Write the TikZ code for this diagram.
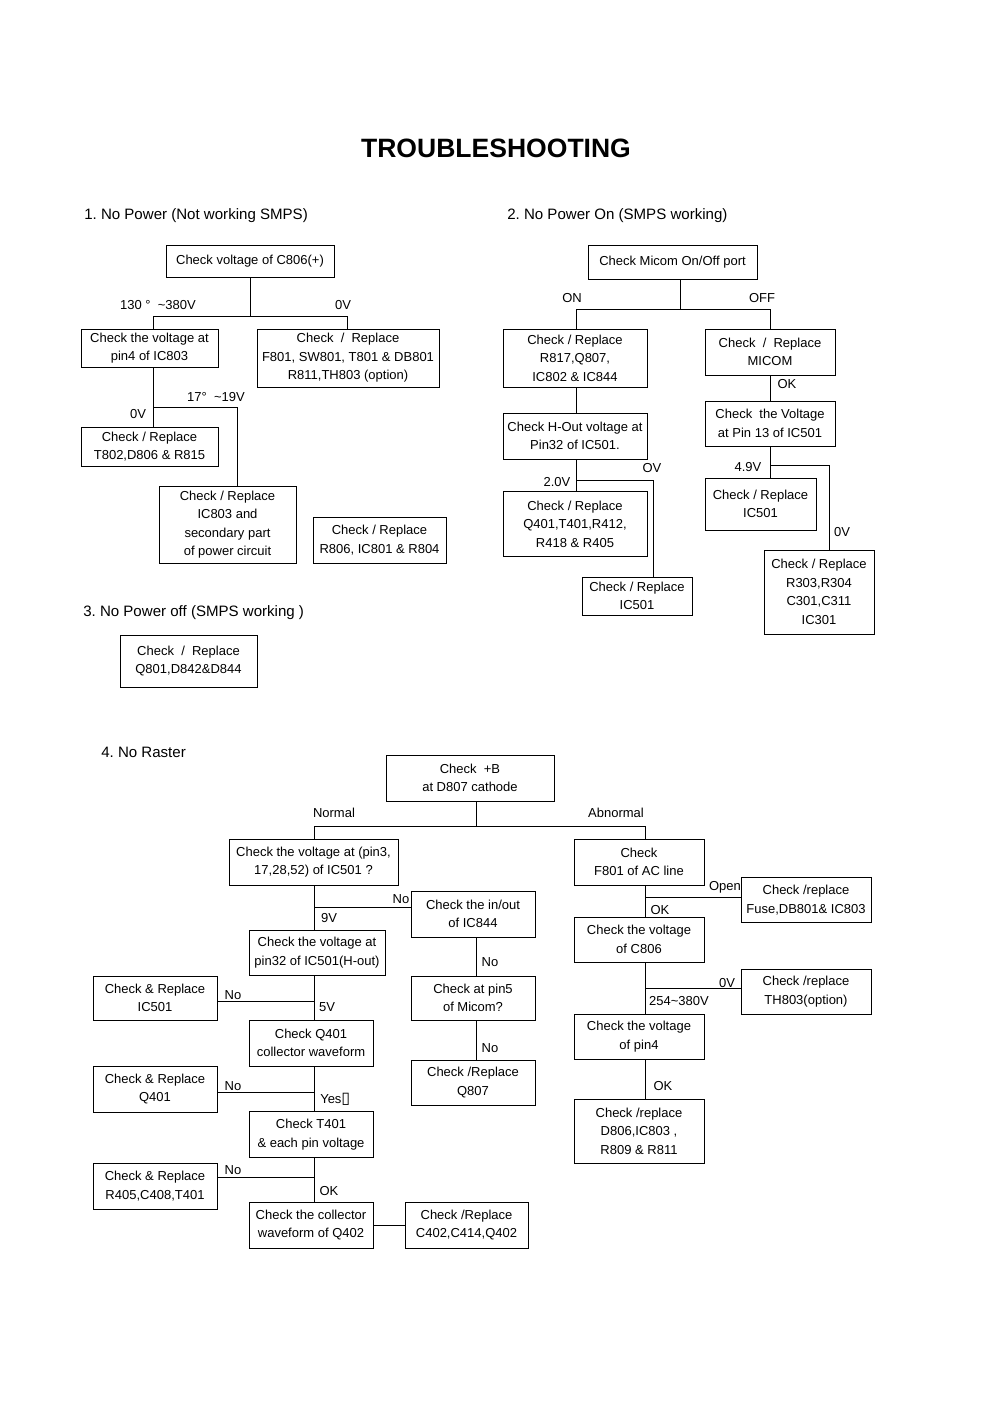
\documentclass[tikz,border=0pt]{standalone}
\usepackage{fontspec}
\setmainfont{Liberation Sans}
\newfontfamily\djv{DejaVu Sans}
\begin{document}
\frenchspacing
\begin{tikzpicture}[x=0.75pt,y=-0.75pt,
  bx/.style={draw,line width=0.7pt,inner sep=0pt,align=center,font=\fontsize{9.75}{13.9}\selectfont},
  sz/.style 2 args={minimum width=#1*0.75pt,minimum height=#2*0.75pt},
  lbl/.style={inner sep=0pt,font=\fontsize{9.75}{12}\selectfont},
  hd/.style={inner sep=0pt,anchor=west,font=\fontsize{11.3}{13}\selectfont},
  ln/.style={line width=0.7pt}]
\useasboundingbox (0,0) rectangle (992,1404);
\fill[white] (0,0) rectangle (992,1404);

\node[inner sep=0pt,font=\fontsize{19.9}{22}\selectfont\bfseries] (title) at (496,148) {TROUBLESHOOTING};

% ---------------- Section 1
\node[hd] (h1) at (84,216) {1. No Power (Not working SMPS)};
\node[bx,sz={168}{32}] (A1) at (250,261) {Check voltage of C806(+)};
\node[bx,sz={137}{38}] (B1) at (149.5,348) {Check the voltage at\\pin4 of IC803};
\node[bx,sz={182}{58}] (C1) at (348,358) {Check~ /~ Replace\\F801, SW801, T801 \& DB801\\R811,TH803 (option)};
\node[bx,sz={137}{39}] (D1) at (149.5,446.5) {Check / Replace\\T802,D806 \& R815};
\node[bx,sz={137}{77}] (E1) at (227.5,524.5) {Check / Replace\\IC803 and\\secondary part\\of power circuit};
\node[bx,sz={133}{46}] (F1) at (379.5,540) {Check / Replace\\R806, IC801 \& R804};

\coordinate (s1j) at (250,316);
\coordinate (s1L) at (153,316);
\coordinate (s1R) at (347,316);
\coordinate (s1k) at (153,407);
\coordinate (s1m) at (237,407);
\draw[ln] (A1.south) -- (s1j);
\draw[ln] (B1.north -| s1L) -- (s1L) -- (s1R) -- (C1.north -| s1R);
\draw[ln] (B1.south -| s1k) -- (D1.north -| s1k);
\draw[ln] (s1k) -- (s1m) -- (E1.north -| s1m);

\node[lbl] (l1a) at (158,305) {130 °\ \ \textasciitilde380V};
\node[lbl] (l1b) at (343,305) {0V};
\node[lbl] (l1c) at (216,397) {17°\ \ \textasciitilde19V};
\node[lbl] (l1d) at (138,414) {0V};

% ---------------- Section 2
\node[hd] (h2) at (507,216) {2. No Power On (SMPS working)};
\node[bx,sz={169}{34}] (A2) at (672.5,262) {Check Micom On/Off port};
\node[bx,sz={144}{58}] (B2) at (575,358) {Check / Replace\\R817,Q807,\\IC802 \& IC844};
\node[bx,sz={130}{46}] (C2) at (770,352) {Check~ /~ Replace\\MICOM};
\node[bx,sz={130}{45}] (D2) at (770,423.5) {Check~ the Voltage\\at Pin 13 of IC501};
\node[bx,sz={144}{46}] (E2) at (575,436) {Check H-Out voltage at\\Pin32 of IC501.};
\node[bx,sz={144}{65}] (F2) at (575,524) {Check / Replace\\Q401,T401,R412,\\R418 \& R405};
\node[bx,sz={110}{38}] (G2) at (637,596) {Check / Replace\\IC501};
\node[bx,sz={111}{52}] (H2) at (760.5,504) {Check / Replace\\IC501};
\node[bx,sz={110}{84}] (I2) at (819,592) {Check / Replace\\R303,R304\\C301,C311\\IC301};

\coordinate (s2j) at (680,309);
\coordinate (s2L) at (576,309);
\coordinate (s2R) at (770,309);
\draw[ln] (A2.south -| s2j) -- (s2j);
\draw[ln] (B2.north -| s2L) -- (s2L) -- (s2R) -- (C2.north -| s2R);
\draw[ln] (C2.south) -- (D2.north);
\draw[ln] (B2.south -| s2L) -- (E2.north -| s2L);
\coordinate (s2k) at (576,480);
\coordinate (s2m) at (653,480);
\draw[ln] (E2.south -| s2k) -- (F2.north -| s2k);
\draw[ln] (s2k) -- (s2m) -- (G2.north -| s2m);
\coordinate (s2p) at (770,465);
\coordinate (s2q) at (829,465);
\draw[ln] (D2.south -| s2p) -- (H2.north -| s2p);
\draw[ln] (s2p) -- (s2q) -- (I2.north -| s2q);

\node[lbl] (l2a) at (572,298) {ON};
\node[lbl] (l2b) at (762,298) {OFF};
\node[lbl] (l2c) at (787,384) {OK};
\node[lbl] (l2d) at (652,468) {OV};
\node[lbl] (l2e) at (557,482) {2.0V};
\node[lbl] (l2f) at (748,467) {4.9V};
\node[lbl] (l2g) at (842,532) {0V};

% ---------------- Section 3
\node[hd] (h3) at (83,613) {3. No Power off (SMPS working )};
\node[bx,sz={137}{52}] (S3) at (188.5,661) {Check~ /~ Replace\\Q801,D842\&D844};

% ---------------- Section 4
\node[hd] (h4) at (101,752) {4. No Raster};
\node[bx,sz={168}{46}] (A4) at (470,778) {Check~ +B\\at D807 cathode};
\node[bx,sz={169}{46}] (B4) at (313.5,862) {Check the voltage at (pin3,\\17,28,52) of IC501 ?};
\node[bx,sz={124}{46}] (D4) at (473,914) {Check the in/out\\of IC844};
\node[bx,sz={136}{45}] (C4) at (317,952.5) {Check the voltage at\\pin32 of IC501(H-out)};
\node[bx,sz={124}{44}] (F4) at (155,998) {Check \& Replace\\IC501};
\node[bx,sz={124}{46}] (E4) at (311,1043) {Check Q401\\collector waveform};
\node[bx,sz={124}{44}] (G4) at (473,998) {Check at pin5\\of Micom?};
\node[bx,sz={124}{45}] (H4) at (473,1082.5) {Check /Replace\\Q807};
\node[bx,sz={124}{46}] (J4) at (155,1089) {Check \& Replace\\Q401};
\node[bx,sz={124}{46}] (I4) at (311,1134.5) {Check T401\\\& each pin voltage};
\node[bx,sz={124}{46}] (L4) at (155,1186) {Check \& Replace\\R405,C408,T401};
\node[bx,sz={124}{46}] (K4) at (311,1225) {Check the collector\\waveform of Q402};
\node[bx,sz={123}{46}] (M4) at (466.5,1225) {Check /Replace\\C402,C414,Q402};
\node[bx,sz={130}{46}] (N4) at (639,862) {Check\\F801 of AC line};
\node[bx,sz={130}{45}] (P4) at (806,900) {Check /replace\\Fuse,DB801\& IC803};
\node[bx,sz={130}{45}] (O4) at (639,939.5) {Check the voltage\\of C806};
\node[bx,sz={130}{45}] (R4) at (806,991.5) {Check /replace\\TH803(option)};
\node[bx,sz={130}{45}] (Q4) at (639,1036.5) {Check the voltage\\of pin4};
\node[bx,sz={130}{64}] (S4) at (639,1131) {Check /replace\\D806,IC803 ,\\R809 \& R811};

\coordinate (s4j) at (476,826);
\coordinate (s4L) at (314,826);
\coordinate (s4R) at (645,826);
\draw[ln] (A4.south -| s4j) -- (s4j);
\draw[ln] (B4.north -| s4L) -- (s4L) -- (s4R) -- (N4.north -| s4R);
% left chain
\coordinate (c1) at (314,907);
\coordinate (c2) at (314,1001);
\coordinate (c3) at (314,1092);
\coordinate (c4) at (314,1177);
\draw[ln] (B4.south -| c1) -- (C4.north -| c1);
\draw[ln] (c1) -- (D4.west |- c1);
\draw[ln] (C4.south -| c2) -- (E4.north -| c2);
\draw[ln] (c2) -- (F4.east |- c2);
\draw[ln] (E4.south -| c3) -- (I4.north -| c3);
\draw[ln] (c3) -- (J4.east |- c3);
\draw[ln] (I4.south -| c4) -- (K4.north -| c4);
\draw[ln] (c4) -- (L4.east |- c4);
\draw[ln] (K4.east) -- (M4.west);
% middle chain
\coordinate (m1) at (476,0);
\draw[ln] (D4.south -| m1) -- (G4.north -| m1);
\draw[ln] (G4.south -| m1) -- (H4.north -| m1);
% right chain
\coordinate (r1) at (645,897);
\coordinate (r2) at (645,988);
\draw[ln] (N4.south -| r1) -- (O4.north -| r1);
\draw[ln] (r1) -- (P4.west |- r1);
\draw[ln] (O4.south -| r2) -- (Q4.north -| r2);
\draw[ln] (r2) -- (R4.west |- r2);
\draw[ln] (Q4.south -| r2) -- (S4.north -| r2);

\node[lbl] (l4a) at (334,813) {Normal};
\node[lbl] (l4b) at (616,813) {Abnormal};
\node[lbl] (l4c) at (401,899) {No};
\node[lbl] (l4d) at (329,918) {9V};
\node[lbl] (l4e) at (490,962) {No};
\node[lbl] (l4f) at (490,1048) {No};
\node[lbl] (l4g) at (233,995) {No};
\node[lbl] (l4h) at (327,1007) {5V};
\node[lbl] (l4i) at (233,1086) {No};
\node[lbl,anchor=base west] (l4j) at (320,1103) {Yes{\djv\fontsize{12}{12}\selectfont ▯}};
\node[lbl] (l4k) at (233,1170) {No};
\node[lbl] (l4l) at (329,1191) {OK};
\node[lbl] (l4m) at (725,887) {Open};
\node[lbl] (l4n) at (660,910) {OK};
\node[lbl] (l4o) at (727,983) {0V};
\node[lbl] (l4p) at (679,1001) {254\textasciitilde 380V};
\node[lbl] (l4q) at (663,1086) {OK};
\end{tikzpicture}
\end{document}
